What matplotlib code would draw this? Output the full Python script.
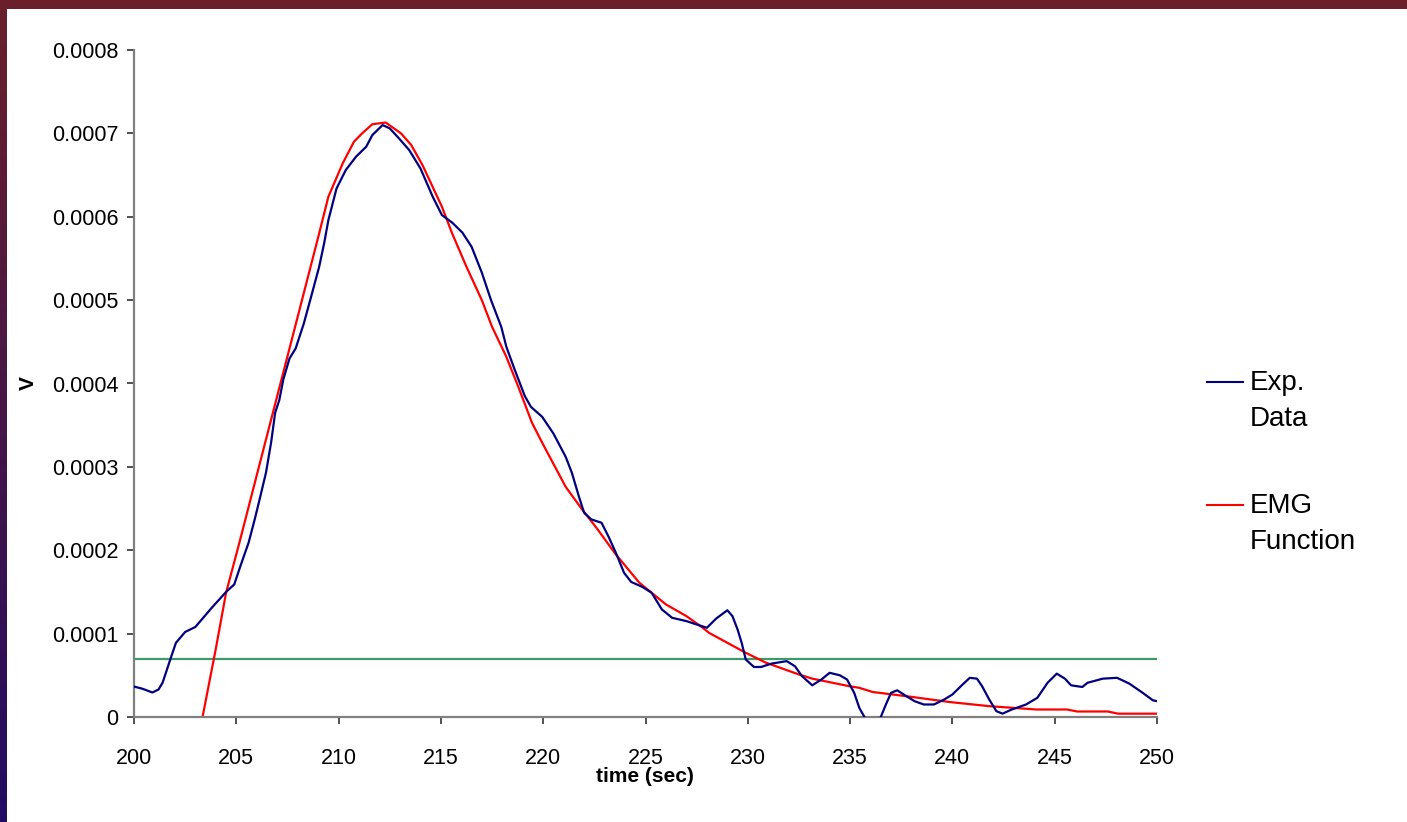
import numpy as np
import matplotlib
matplotlib.use("Agg")
import matplotlib.pyplot as plt
from matplotlib.lines import Line2D

# ---------------- data (V values in units of 1e-4) ----------------
exp_t = [200.0, 200.4, 200.9, 201.2, 201.4, 201.8, 202.05, 202.5, 203.0, 203.8,
         204.5, 204.9, 205.2, 205.6, 205.9, 206.1, 206.45, 206.7, 206.9, 207.1,
         207.3, 207.6, 207.9, 208.3, 208.7, 209.05, 209.3, 209.5, 209.9, 210.35,
         210.85, 211.35, 211.65, 212.15, 212.5, 212.95, 213.45, 214.0, 214.6, 215.05,
         215.55, 216.05, 216.5, 217.0, 217.45, 217.95, 218.2, 218.6, 219.1, 219.4,
         219.95, 220.5, 221.1, 221.4, 221.75, 222.0, 222.35, 222.85, 223.2, 223.55,
         223.95, 224.3, 224.85, 225.3, 225.8, 226.3, 227.0, 227.5, 228.0, 228.45,
         229.0, 229.25, 229.5, 229.7, 229.9, 230.3, 230.65, 231.15, 231.9, 232.3,
         232.65, 233.15, 233.6, 234.0, 234.5, 234.85, 235.2, 235.45, 235.7, 236.1,
         236.5, 236.75, 237.0, 237.3, 237.75, 238.15, 238.6, 239.1, 239.6, 240.0,
         240.5, 240.85, 241.2, 241.45, 241.8, 242.15, 242.45, 242.9, 243.6, 244.15,
         244.65, 245.1, 245.5, 245.8, 246.35, 246.6, 247.35, 248.05, 248.65, 249.3,
         249.8, 250.0]
exp_v = [0.365, 0.34, 0.294, 0.33, 0.413, 0.71, 0.89, 1.02, 1.08, 1.31,
         1.50, 1.59, 1.81, 2.09, 2.37, 2.57, 2.93, 3.29, 3.65, 3.80,
         4.05, 4.30, 4.42, 4.72, 5.08, 5.40, 5.69, 5.96, 6.34, 6.56,
         6.72, 6.84, 6.98, 7.10, 7.06, 6.94, 6.80, 6.58, 6.24, 6.02,
         5.93, 5.81, 5.64, 5.33, 5.00, 4.68, 4.44, 4.17, 3.85, 3.72,
         3.60, 3.40, 3.12, 2.93, 2.64, 2.45, 2.37, 2.33, 2.16, 1.97,
         1.73, 1.62, 1.56, 1.49, 1.29, 1.19, 1.15, 1.11, 1.07, 1.18,
         1.28, 1.21, 1.05, 0.89, 0.69, 0.60, 0.60, 0.64, 0.67, 0.61,
         0.49, 0.38, 0.45, 0.53, 0.50, 0.45, 0.29, 0.11, 0.0, -0.12,
         0.0, 0.15, 0.29, 0.32, 0.25, 0.19, 0.15, 0.15, 0.21, 0.27,
         0.39, 0.47, 0.46, 0.37, 0.21, 0.07, 0.04, 0.09, 0.15, 0.23,
         0.41, 0.52, 0.46, 0.38, 0.36, 0.41, 0.46, 0.47, 0.40, 0.29,
         0.20, 0.19]

emg_t = [203.35, 204.0, 204.5, 205.15, 206.0, 207.0, 208.0, 209.05, 209.5, 210.2,
         210.75, 211.15, 211.65, 212.3, 213.05, 213.55, 214.1, 215.05, 215.55, 216.25,
         217.0, 217.5, 218.2, 218.8, 219.45, 219.95, 221.1, 221.9, 222.6, 223.55,
         224.7, 226.0, 227.0, 227.8, 228.1, 229.9, 230.9, 232.5, 233.15, 234.95,
         235.45, 236.1, 238.05, 239.85, 241.8, 244.1, 245.6, 246.1, 247.6, 248.1,
         250.0]
emg_v = [0.0, 0.82, 1.49, 2.09, 2.90, 3.85, 4.80, 5.80, 6.24, 6.64,
         6.90, 7.00, 7.11, 7.13, 7.00, 6.86, 6.62, 6.12, 5.80, 5.40,
         5.00, 4.68, 4.32, 3.95, 3.53, 3.29, 2.76, 2.49, 2.27, 1.95,
         1.61, 1.35, 1.21, 1.07, 1.01, 0.77, 0.65, 0.51, 0.46, 0.37,
         0.35, 0.30, 0.24, 0.18, 0.13, 0.09, 0.09, 0.066, 0.066, 0.04,
         0.04]

threshold_v = 0.7  # 1e-4 units

x_ticks = list(range(200, 251, 5))
y_ticks = [0, 1, 2, 3, 4, 5, 6, 7, 8]
y_tick_labels = ["0", "0.0001", "0.0002", "0.0003", "0.0004",
                 "0.0005", "0.0006", "0.0007", "0.0008"]
series_names = ["Exp.\nData", "EMG\nFunction"]
x_label = "time (sec)"
y_label = "V"

SCALE = 1e-4

# ---------------- figure ----------------
plt.rcParams['font.family'] = ['Liberation Sans', 'DejaVu Sans']
W, H = 1407, 822
fig = plt.figure(figsize=(W / 100, H / 100), dpi=100)
fig.patch.set_facecolor('white')

# decorative border (top band + left gradient band)
top_ax = fig.add_axes([0, 1 - 9 / H, 1, 9 / H])
top_ax.set_axis_off()
top_ax.add_patch(plt.Rectangle((0, 0), 1, 1, transform=top_ax.transAxes,
                               color='#6a1f2b'))
left_ax = fig.add_axes([0, 0, 7 / W, 1 - 9 / H])
grad = np.linspace(0, 1, 256).reshape(-1, 1)
c_top = np.array([0x6a, 0x1f, 0x2b]) / 255
c_bot = np.array([0x22, 0x0c, 0x62]) / 255
img = c_top[None, None, :] * (1 - grad[:, :, None]) + c_bot[None, None, :] * grad[:, :, None]
left_ax.imshow(img, aspect='auto', extent=[0, 1, 0, 1], origin='upper')
left_ax.set_axis_off()

ax = fig.add_axes([134 / W, 1 - 717 / H, (1157 - 134) / W, (717 - 50) / H])
t_exp = np.array(exp_t)
v_exp = np.array(exp_v) * SCALE
t_emg = np.array(emg_t)
v_emg = np.array(emg_v) * SCALE

ax.axhline(threshold_v * SCALE, color='#3d9a66', lw=1.6, zorder=1)
l1, = ax.plot(t_exp, v_exp, color='#000080', lw=1.6, zorder=3)
l2, = ax.plot(t_emg, v_emg, color='#ff0000', lw=1.6, zorder=2)

ax.set_xlim(200, 250)
ax.set_ylim(0, 8 * SCALE)
ax.set_xticks(x_ticks)
ax.set_xticklabels([str(v) for v in x_ticks])
ax.set_yticks([v * SCALE for v in y_ticks])
ax.set_yticklabels(y_tick_labels)

for s in ['top', 'right']:
    ax.spines[s].set_visible(False)
for s in ['left', 'bottom']:
    ax.spines[s].set_color('#808080')
    ax.spines[s].set_linewidth(1.6)
ax.tick_params(axis='both', direction='out', length=5, width=1.2,
               color='#333333', labelsize=15.5, labelcolor='black')
ax.tick_params(axis='x', pad=17)
ax.tick_params(axis='y', pad=6)

fig.text(645 / W, 1 - 776 / H, x_label, ha='center', va='center',
         fontsize=15, fontweight='bold')
fig.text(28 / W, 1 - 383 / H, y_label, ha='center', va='center',
         fontsize=15, fontweight='bold', rotation=90)

# legend (manual, handles aligned with first text line)
leg_items = [(l1, 382), (l2, 505)]
for (ln, ypx), name in zip(leg_items, series_names):
    yf = 1 - ypx / H
    fig.add_artist(Line2D([1207 / W, 1243 / W], [yf, yf], color=ln.get_color(),
                          lw=1.5, transform=fig.transFigure))
    fig.text(1250 / W, 1 - (ypx - 12) / H, name, ha='left', va='top',
             fontsize=20, linespacing=1.5)

fig.savefig('out.png', dpi=100, facecolor='white')
